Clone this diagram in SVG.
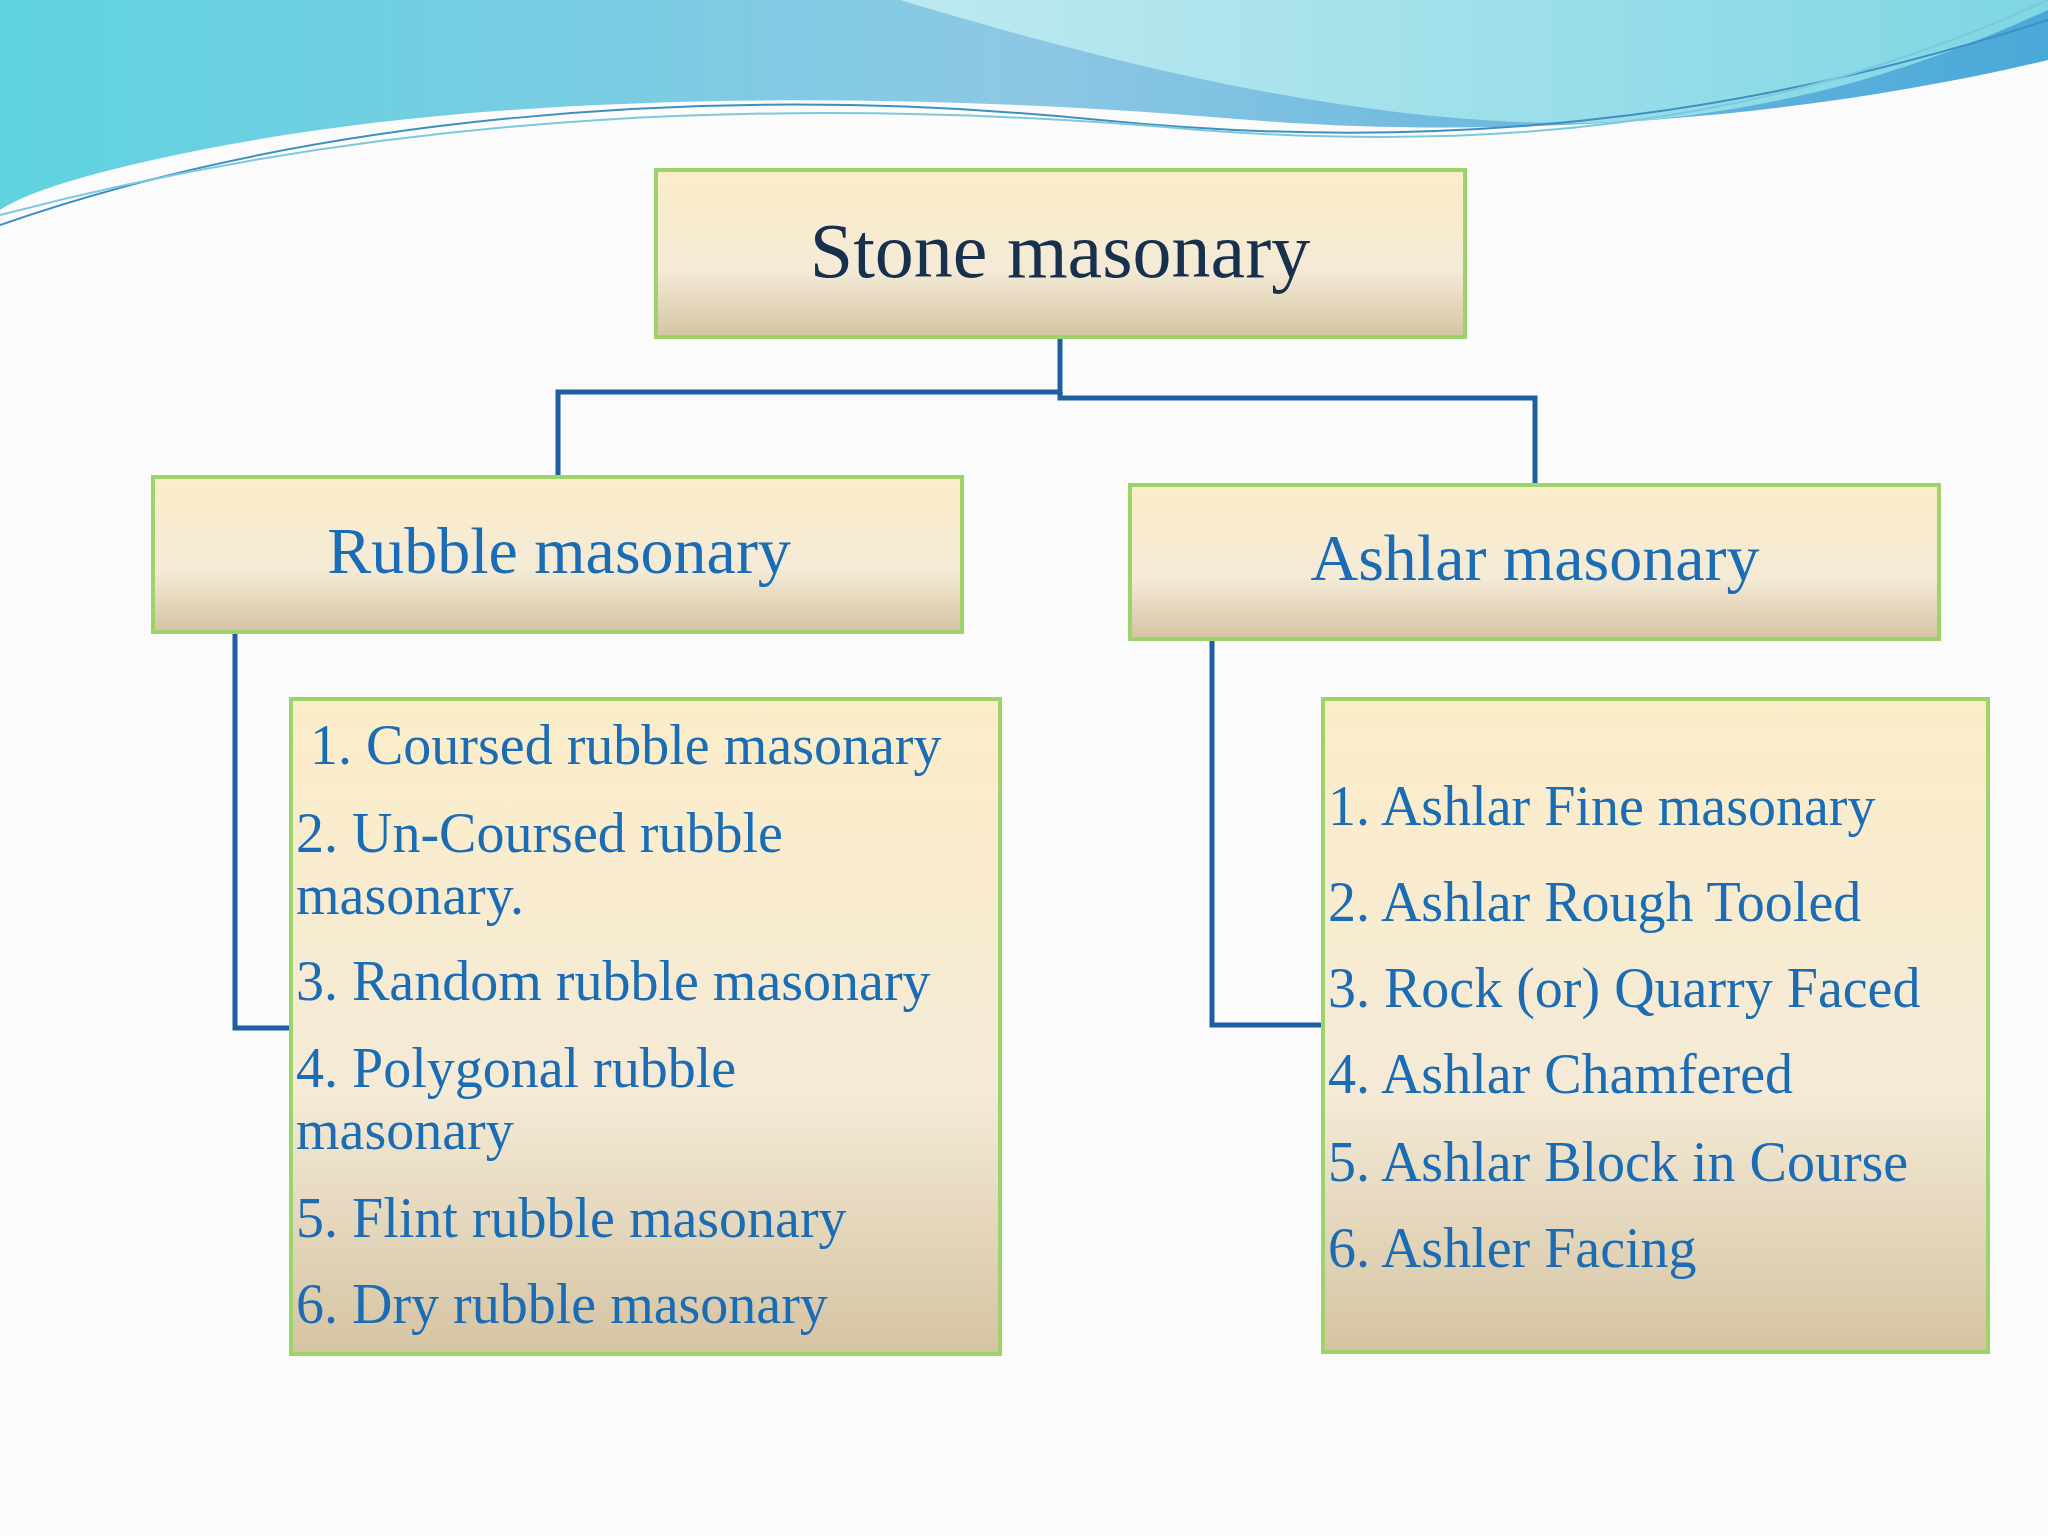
<svg xmlns="http://www.w3.org/2000/svg" width="2048" height="1536" viewBox="0 0 2048 1536">
<defs>
<linearGradient id="box" x1="0" y1="0" x2="0" y2="1">
<stop offset="0" stop-color="#fcedc9"/><stop offset="0.6" stop-color="#f4ead6"/><stop offset="1" stop-color="#d5c4a3"/>
</linearGradient>
<linearGradient id="wave" x1="0" y1="0" x2="1" y2="0">
<stop offset="0" stop-color="#5fd3e0"/><stop offset="0.5" stop-color="#8cc8e4"/><stop offset="1" stop-color="#4aa8d8"/>
</linearGradient>
<linearGradient id="wave2" x1="0" y1="0" x2="1" y2="0">
<stop offset="0" stop-color="#bfe9f0"/><stop offset="1" stop-color="#7fd6e4"/>
</linearGradient>
</defs>
<style>
.box{fill:url(#box);stroke:#9cd36b;stroke-width:4}
.conn{fill:none;stroke:#1f5f9f;stroke-width:5}
.t{font-family:"Liberation Serif",serif;fill:#1a6db5}
.title{font-family:"Liberation Serif",serif;fill:#17304d}
</style>
<rect width="2048" height="1536" fill="#fbfbfc"/>
<path d="M0 0 H2048 V60 C1800 120 1500 140 1250 120 C900 90 500 90 200 150 C100 170 30 190 0 210 Z" fill="url(#wave)"/>
<path d="M900 0 C1100 60 1400 140 1650 120 C1850 100 1980 40 2048 10 V0 Z" fill="url(#wave2)"/>
<path d="M0 225 C300 120 700 80 1100 120 C1500 160 1800 100 2048 20" fill="none" stroke="#3c8fc0" stroke-width="2"/>
<path d="M0 215 C400 110 800 95 1200 130 C1600 160 1850 90 2048 0" fill="none" stroke="#7cc8dc" stroke-width="2"/>
<g id="connectors">
<path class="conn" d="M1060 337 V392 H558 V477"/>
<path class="conn" d="M1060 392 V398 H1535 V485"/>
<path class="conn" d="M235 632 V1028 H291"/>
<path class="conn" d="M1212 639 V1025 H1323"/>
</g>
<g id="stone"><rect class="box" x="656" y="170" width="809" height="167"/>
<text class="title" x="1060" y="277" font-size="78" text-anchor="middle">Stone masonary</text></g>
<g id="rubble"><rect class="box" x="153" y="477" width="809" height="155"/>
<text class="t" x="559" y="573" font-size="66" text-anchor="middle">Rubble masonary</text></g>
<g id="ashlar"><rect class="box" x="1130" y="485" width="809" height="154"/>
<text class="t" x="1535" y="580" font-size="66" text-anchor="middle">Ashlar masonary</text></g>
<g id="rubble-list"><rect class="box" x="291" y="699" width="709" height="655"/>
<g class="t" font-size="56">
<text x="310" y="764">1. Coursed rubble masonary</text>
<text x="296" y="852">2. Un-Coursed rubble</text>
<text x="296" y="914">masonary.</text>
<text x="296" y="1000">3. Random rubble masonary</text>
<text x="296" y="1087">4. Polygonal rubble</text>
<text x="296" y="1149">masonary</text>
<text x="296" y="1237">5. Flint rubble masonary</text>
<text x="296" y="1323">6. Dry rubble masonary</text>
</g></g>
<g id="ashlar-list"><rect class="box" x="1323" y="699" width="665" height="653"/>
<g class="t" font-size="56">
<text x="1328" y="825">1. Ashlar Fine masonary</text>
<text x="1328" y="921">2. Ashlar Rough Tooled</text>
<text x="1328" y="1007">3. Rock (or) Quarry Faced</text>
<text x="1328" y="1093">4. Ashlar Chamfered</text>
<text x="1328" y="1181">5. Ashlar Block in Course</text>
<text x="1328" y="1267">6. Ashler Facing</text>
</g></g>
</svg>
